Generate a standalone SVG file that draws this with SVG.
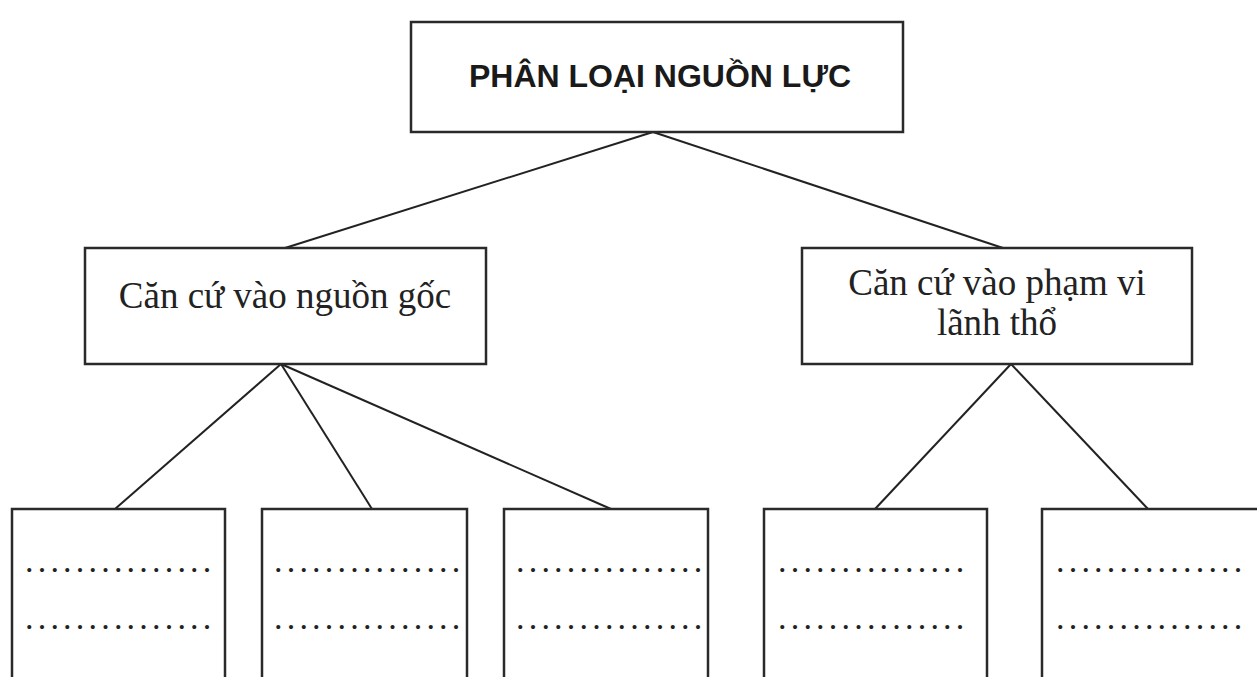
<svg xmlns="http://www.w3.org/2000/svg" width="1257" height="677" viewBox="0 0 1257 677">
<style>
.box{fill:#fff;stroke:#2a2a2a;stroke-width:2.5}
.ln{stroke:#222;stroke-width:2;fill:none}
.t{font-family:"Liberation Serif","Times New Roman",serif;font-size:37px;fill:#222;text-anchor:middle}
.h{font-family:"Liberation Sans",Arial,sans-serif;font-size:32px;font-weight:bold;fill:#1a1a1a;text-anchor:middle}
.d{font-family:"Liberation Serif","Times New Roman",serif;font-size:34px;fill:#222;letter-spacing:4.2px}
</style>
<rect width="1257" height="677" fill="#fff"/>
<g id="connectors">
<line class="ln" x1="653" y1="132" x2="285" y2="248"/>
<line class="ln" x1="653" y1="132" x2="1003" y2="248"/>
<line class="ln" x1="281" y1="364" x2="115" y2="509"/>
<line class="ln" x1="281" y1="364" x2="372" y2="509"/>
<line class="ln" x1="281" y1="364" x2="611" y2="509"/>
<line class="ln" x1="1011" y1="364" x2="875" y2="509"/>
<line class="ln" x1="1011" y1="364" x2="1148" y2="509"/>
</g>
<g id="root">
<rect class="box" x="411" y="22" width="492" height="110"/>
<text class="h" x="660" y="87">PHÂN LOẠI NGUỒN LỰC</text>
</g>
<g id="origin">
<rect class="box" x="85" y="248" width="401" height="116"/>
<text class="t" x="285" y="308">Căn cứ vào nguồn gốc</text>
</g>
<g id="territory">
<rect class="box" x="802" y="248" width="390" height="116"/>
<text class="t" x="997" y="295">Căn cứ vào phạm vi</text>
<text class="t" x="997" y="335">lãnh thổ</text>
</g>
<g id="leaf1">
<rect class="box" x="12" y="509" width="213" height="190"/>
<text class="d" x="25" y="572">...............</text>
<text class="d" x="25" y="629">...............</text>
</g>
<g id="leaf2">
<rect class="box" x="262" y="509" width="205" height="190"/>
<text class="d" x="274" y="572">...............</text>
<text class="d" x="274" y="629">...............</text>
</g>
<g id="leaf3">
<rect class="box" x="504" y="509" width="204" height="190"/>
<text class="d" x="516" y="572">...............</text>
<text class="d" x="516" y="629">...............</text>
</g>
<g id="leaf4">
<rect class="box" x="764" y="509" width="223" height="190"/>
<text class="d" x="778" y="572">...............</text>
<text class="d" x="778" y="629">...............</text>
</g>
<g id="leaf5">
<rect class="box" x="1042" y="509" width="230" height="190"/>
<text class="d" x="1056" y="572">...............</text>
<text class="d" x="1056" y="629">...............</text>
</g>
</svg>
